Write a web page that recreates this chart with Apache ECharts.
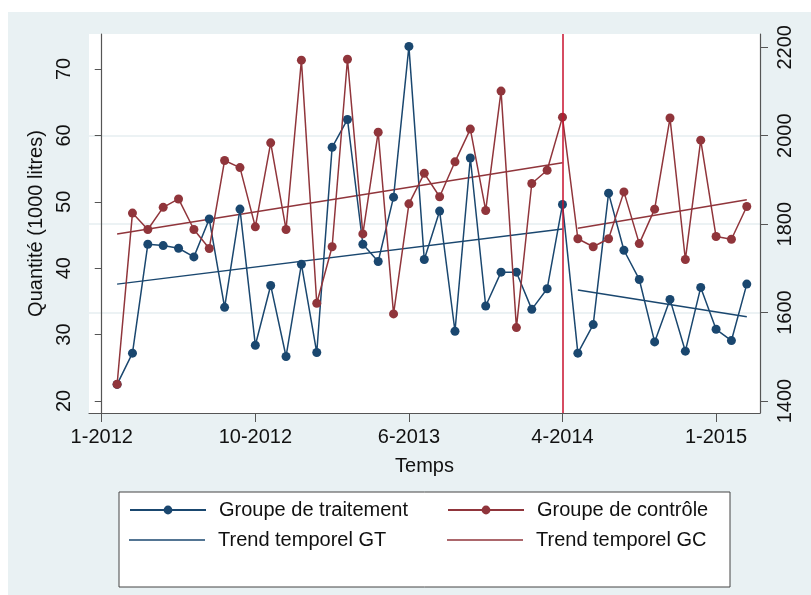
<!DOCTYPE html>
<html>
<head>
<meta charset="utf-8">
<script src="https://cdn.jsdelivr.net/npm/echarts@6/dist/echarts.min.js"></script>
<style>
  html, body { margin: 0; padding: 0; background: #fff; }
  #chart { width: 811px; height: 595px; }
</style>
</head>
<body>
<div id="chart"></div>
<script>
// index temporel 0..42, etiquettes tous les 10 points
var tickIdx = [0, 10, 20, 30, 40];
var tickLabels = ['1-2012', '10-2012', '6-2013', '4-2014', '1-2015'];
var ticksGauche = [20, 30, 40, 50, 60, 70];
var ticksDroite = [1400, 1600, 1800, 2000, 2200];

// Groupe de traitement (axe gauche, 1000 litres), points 1..42
var groupeGT = [22.5, 27.2, 43.6, 43.4, 43.0, 41.7, 47.4, 34.1, 48.9, 28.4,
                37.4, 26.7, 40.6, 27.3, 58.2, 62.4, 43.6, 41.0, 50.7, 73.4,
                41.3, 48.6, 30.5, 56.6, 34.3, 39.4, 39.4, 33.8, 36.9, 49.6,
                27.2, 31.5, 51.3, 42.7, 38.3, 28.9, 35.3, 27.5, 37.1, 30.8,
                29.1, 37.6];

// Groupe de controle (axe droit), points 1..42
var groupeGC = [1438, 1825, 1788, 1838, 1857, 1788, 1745, 1944, 1928, 1794,
                1984, 1788, 2171, 1621, 1749, 2173, 1778, 2008, 1597, 1846,
                1915, 1862, 1941, 2015, 1831, 2101, 1566, 1892, 1922, 2042,
                1767, 1749, 1767, 1873, 1756, 1834, 2040, 1720, 1990, 1772,
                1766, 1840];

// tendances (debut / fin de chaque periode)
var trendGTavant = [[1, 37.6], [30, 45.9]];
var trendGTapres = [[31, 36.7], [42, 32.7]];
var trendGCavant = [[1, 1778], [30, 1939]];
var trendGCapres = [[31, 1791], [42, 1855]];

var coupure = 30; // 4-2014

var bleu = '#1a476f';
var rouge = '#90353b';
var police = 'Liberation Sans, Arial, sans-serif';

function points(vals) {
    var out = [];
    for (var i = 0; i < vals.length; i++) {
        out.push([i + 1, vals[i]]);
    }
    return out;
}

var dom = document.getElementById('chart');
var myChart = echarts.init(dom, null, { renderer: 'canvas' });

function legende(nom, x, y, trait) {
    return {
        data: trait ? [{ name: nom, icon: 'rect' }] : [nom],
        left: x,
        top: y,
        padding: 0,
        itemWidth: 76,
        itemHeight: trait ? 1.6 : 11,
        selectedMode: false,
        textStyle: {
            fontFamily: police,
            fontSize: 20,
            color: '#111',
            padding: [0, 0, 0, 8]
        }
    };
}

var option = {
    animation: false,
    backgroundColor: '#fff',
    textStyle: { fontFamily: police },
    graphic: [{
        type: 'rect',
        z: -10,
        shape: { x: 8, y: 12, width: 803, height: 583 },
        style: { fill: '#e9f1f3' }
    }, {
        type: 'rect',
        z: 1,
        shape: { x: 119, y: 492, width: 611, height: 95 },
        style: { fill: '#fff', stroke: '#444', lineWidth: 1 }
    }],
    grid: {
        left: 89,
        right: 51,
        top: 34,
        bottom: 182,
        show: true,
        backgroundColor: '#fff',
        borderWidth: 0
    },
    legend: [
        legende('Groupe de traitement', 129, 500, false),
        legende('Groupe de contrôle', 447, 500, false),
        legende('Trend temporel GT', 129, 530, true),
        legende('Trend temporel GC', 447, 530, true)
    ],
    xAxis: {
        type: 'value',
        min: -0.83,
        max: 42.86,
        name: 'Temps',
        nameLocation: 'middle',
        nameGap: 43,
        nameTextStyle: { fontFamily: police, fontSize: 20, color: '#111' },
        axisLine: { lineStyle: { color: '#555', width: 1.2 } },
        axisTick: { length: 9, customValues: tickIdx, lineStyle: { color: '#555' } },
        axisLabel: {
            customValues: tickIdx,
            margin: 14,
            fontFamily: police,
            fontSize: 20,
            color: '#111',
            formatter: function (v) {
                var k = tickIdx.indexOf(Math.round(v));
                return k >= 0 ? tickLabels[k] : '';
            }
        },
        splitLine: { show: false }
    },
    yAxis: [{
        type: 'value',
        position: 'left',
        min: 18.19,
        max: 75.27,
        name: 'Quantité (1000 litres)',
        nameLocation: 'middle',
        nameGap: 36,
        nameTextStyle: { fontFamily: police, fontSize: 20, color: '#111' },
        axisLine: { show: true, lineStyle: { color: '#555', width: 1.2 } },
        axisTick: { show: true, length: 7, customValues: ticksGauche, lineStyle: { color: '#555' } },
        axisLabel: {
            customValues: ticksGauche,
            rotate: 90,
            margin: 15,
            fontFamily: police,
            fontSize: 20,
            color: '#111',
            formatter: function (v) { return String(v); }
        },
        splitLine: { show: false }
    }, {
        type: 'value',
        position: 'right',
        min: 1372.9,
        max: 2230.1,
        axisLine: { show: true, lineStyle: { color: '#555', width: 1.2 } },
        axisTick: { show: true, length: 8, customValues: ticksDroite, lineStyle: { color: '#555' } },
        axisLabel: {
            customValues: ticksDroite,
            rotate: 90,
            margin: 15,
            fontFamily: police,
            fontSize: 20,
            color: '#111',
            formatter: function (v) { return String(v); }
        },
        splitLine: {
            show: true,
            showMinLine: false,
            showMaxLine: false,
            lineStyle: { color: '#e6eef0', width: 1.5 }
        }
    }],
    series: [{
        name: 'Groupe de traitement',
        type: 'line',
        yAxisIndex: 0,
        data: points(groupeGT),
        symbol: 'circle',
        symbolSize: 9,
        itemStyle: { color: bleu },
        lineStyle: { color: bleu, width: 1.5 },
        markLine: {
            silent: true,
            symbol: 'none',
            label: { show: false },
            lineStyle: { color: '#c8102e', type: 'solid', width: 1.5 },
            data: [{ xAxis: coupure }]
        },
        z: 3
    }, {
        name: 'Groupe de contrôle',
        type: 'line',
        yAxisIndex: 1,
        data: points(groupeGC),
        symbol: 'circle',
        symbolSize: 9,
        itemStyle: { color: rouge },
        lineStyle: { color: rouge, width: 1.5 },
        z: 4
    }, {
        name: 'Trend temporel GT',
        type: 'line',
        yAxisIndex: 0,
        data: trendGTavant,
        symbol: 'none',
        lineStyle: { color: bleu, width: 1.5 },
        itemStyle: { color: bleu },
        z: 2
    }, {
        name: 'Trend temporel GT',
        type: 'line',
        yAxisIndex: 0,
        data: trendGTapres,
        symbol: 'none',
        lineStyle: { color: bleu, width: 1.5 },
        itemStyle: { color: bleu },
        z: 2
    }, {
        name: 'Trend temporel GC',
        type: 'line',
        yAxisIndex: 1,
        data: trendGCavant,
        symbol: 'none',
        lineStyle: { color: rouge, width: 1.5 },
        itemStyle: { color: rouge },
        z: 2
    }, {
        name: 'Trend temporel GC',
        type: 'line',
        yAxisIndex: 1,
        data: trendGCapres,
        symbol: 'none',
        lineStyle: { color: rouge, width: 1.5 },
        itemStyle: { color: rouge },
        z: 2
    }]
};

if (option && typeof option === "object") {
    myChart.setOption(option, true);
}
</script>
</body>
</html>
